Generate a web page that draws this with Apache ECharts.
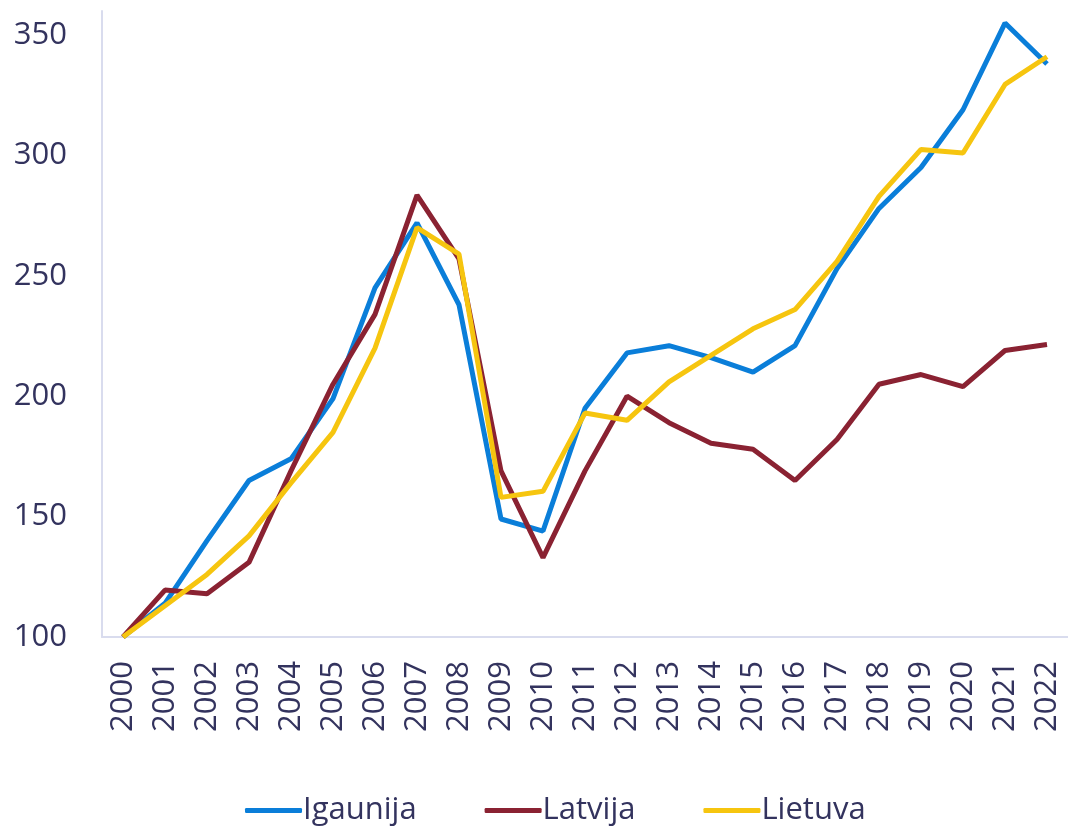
<!DOCTYPE html>
<html>
<head>
<meta charset="utf-8">
<script src="https://cdn.jsdelivr.net/npm/echarts@6/dist/echarts.min.js"></script>
<style>
  html, body { margin: 0; padding: 0; background: #fff; }
  #chart { width: 1068px; height: 829px; }
</style>
</head>
<body>
<div id="chart"></div>
<script>
// gadi
const years = ['2000', '2001', '2002', '2003', '2004', '2005', '2006', '2007', '2008', '2009', '2010', '2011',
  '2012', '2013', '2014', '2015', '2016', '2017', '2018', '2019', '2020', '2021', '2022'];

// indeksi (2000 = 100)
const igaunija = [100, 114, 140, 165, 174, 199, 245, 272, 238, 149, 144, 195,
  218, 221, 216, 210, 221, 253, 278, 295, 319, 355, 338];
const latvija = [100, 119.5, 118, 131, 169, 205, 234, 283.5, 257, 169, 133, 169,
  200, 189, 180.5, 178, 165, 182, 205, 209, 204, 219, 221.5];
const lietuva = [100, 113, 126, 142, 164, 185, 220, 270, 259, 158, 160.5, 193,
  190, 206, 217, 228, 236, 256, 283, 302.5, 301, 329.5, 341];

const textColor = '#33335e';
const axisColor = '#d9dcee';

const chart = echarts.init(document.getElementById('chart'));

function line(name, data, color) {
  return {
    name: name,
    type: 'line',
    data: data,
    showSymbol: false,
    symbol: 'none',
    lineStyle: { width: 5, color: color },
    itemStyle: { color: color }
  };
}

chart.setOption({
  animation: false,
  textStyle: { fontFamily: 'Open Sans' },
  grid: { left: 102, right: 0, top: 11, bottom: 192, containLabel: false },
  legend: {
    top: 795,
    left: 245,
    padding: 0,
    icon: 'roundRect',
    itemWidth: 57,
    itemHeight: 5,
    itemGap: 68,
    textStyle: { fontSize: 31, color: textColor, padding: [0, 0, 0, -4] },
    data: ['Igaunija', 'Latvija', 'Lietuva']
  },
  xAxis: {
    type: 'category',
    data: years,
    boundaryGap: true,
    axisLine: { lineStyle: { color: axisColor, width: 2 } },
    axisTick: { show: false },
    axisLabel: { rotate: 90, fontSize: 31, color: textColor, margin: 24, interval: 0 }
  },
  yAxis: {
    type: 'value',
    min: 100,
    max: 360,
    interval: 50,
    splitLine: { show: false },
    axisLine: { show: true, lineStyle: { color: axisColor, width: 2 } },
    axisTick: { show: false },
    axisLabel: { fontSize: 31, color: textColor, margin: 35, showMaxLabel: false }
  },
  series: [
    line('Igaunija', igaunija, '#0a7ed9'),
    line('Latvija', latvija, '#8a2232'),
    line('Lietuva', lietuva, '#f6c50f')
  ]
});
</script>
</body>
</html>
